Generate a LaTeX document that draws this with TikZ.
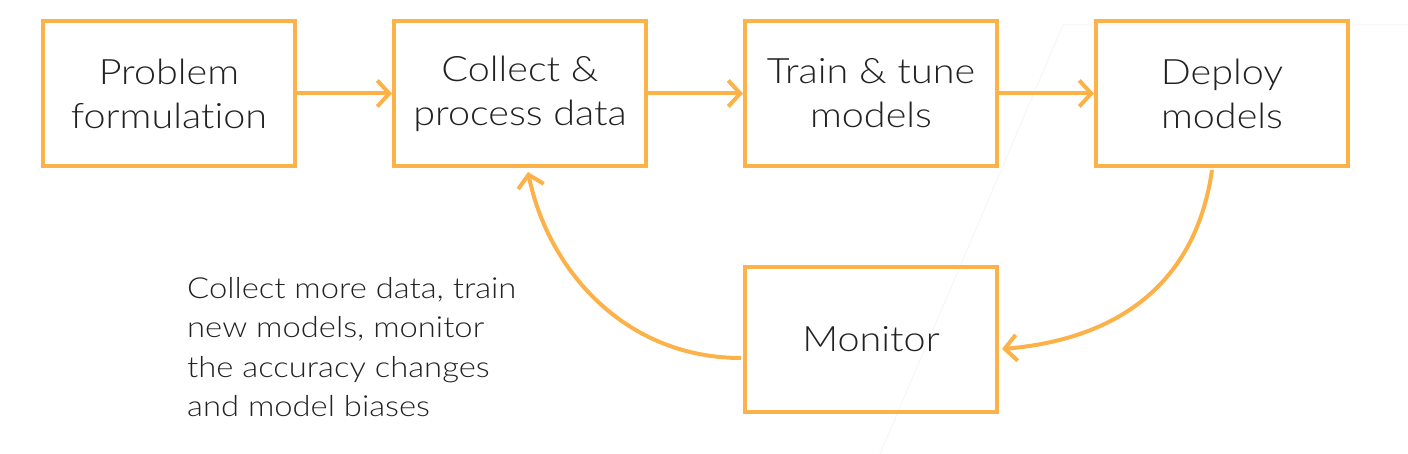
\documentclass[tikz,border=0pt]{standalone}
\usepackage{fontspec}
\setmainfont{Lato}[UprightFont=* Light, FakeStretch=1.13, Ligatures={NoCommon,NoRare}, RawFeature={-liga;-dlig}]
\usetikzlibrary{arrows.meta}
\definecolor{boxorange}{RGB}{252,178,72}
\definecolor{txt}{RGB}{34,34,34}
\definecolor{faint}{RGB}{246,246,246}
\tikzset{
  stagebox/.style={draw=boxorange, line width=4pt, minimum width=252pt, minimum height=145pt,
    align=center, text=txt, font=\fontsize{35pt}{44pt}\selectfont, inner sep=0pt},
  flow/.style={draw=boxorange, line width=4pt,
    -{Straight Barb[length=12pt, width=26pt, line width=4pt]}},
}
\begin{document}
\begin{tikzpicture}[x=1pt,y=-1pt]
\useasboundingbox (0,0) rectangle (1408,454);
\draw[faint, line width=1pt] (1408,25) -- (1063,25) -- (880,454);
\node[stagebox] (prob) at (169,93.5) {Problem\\formulation};
\node[stagebox] (coll) at (520,93.5) {Collect \&\\process data};
\node[stagebox] (train) at (871,93.5) {Train \& tune\\models};
\node[stagebox] (deploy) at (1222,93.5) {Deploy\\models};
\node[stagebox] (mon) at (871,339.5) {Monitor};
\node[anchor=north west, align=left, text=txt, font=\fontsize{29pt}{39.5pt}\selectfont, inner sep=0pt] (note) at (187,277) {Collect more data, train\\new models, monitor\\the accuracy changes\\and model biases};
\coordinate (d1) at (1212,170);
\coordinate (m1) at (1002,349);
\coordinate (m2) at (741,358);
\coordinate (c1) at (528,172);
\draw[flow] (prob.east) -- (coll.west);
\draw[flow] (coll.east) -- (train.west);
\draw[flow] (train.east) -- (deploy.west);
\draw[flow] (d1) .. controls (1195,290) and (1110,340) .. (m1);
\draw[flow] (m2) .. controls (625,358) and (548,270) .. (c1);
\end{tikzpicture}
\end{document}
